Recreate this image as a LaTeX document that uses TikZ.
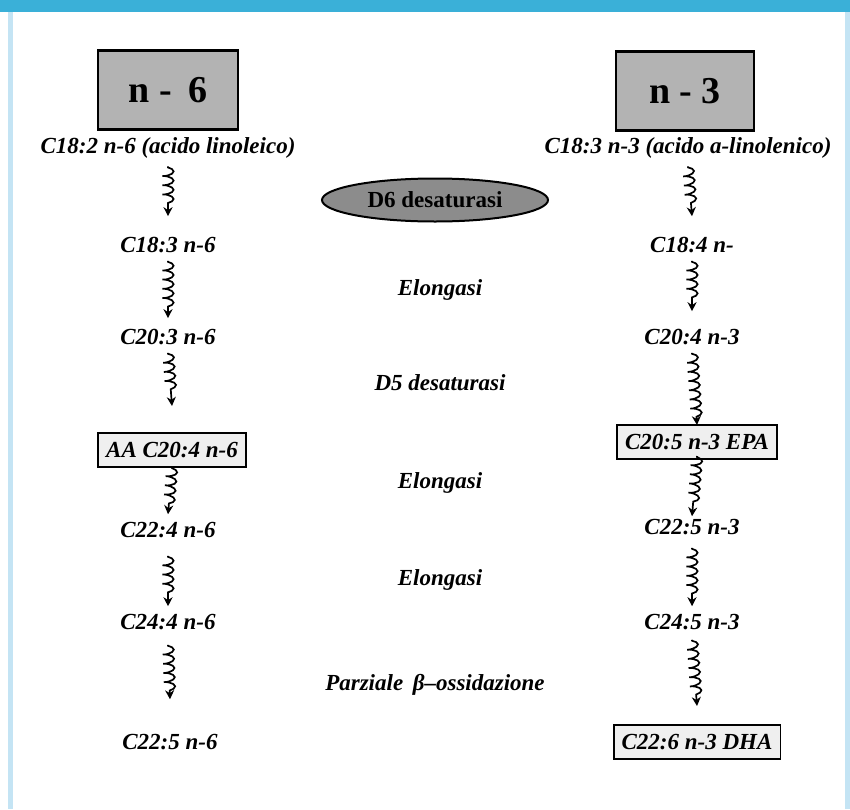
\documentclass[tikz,border=0pt]{standalone}
\usepackage{fontspec}
\setmainfont{Liberation Serif}
\usetikzlibrary{shapes.geometric,arrows.meta,decorations.pathmorphing}
\definecolor{topblue}{HTML}{3AB0D8}
\definecolor{sideblue}{HTML}{C4E4F4}
\definecolor{ellgray}{HTML}{8C8C8C}
\definecolor{boxgray}{HTML}{B3B3B3}
\definecolor{lightbox}{HTML}{EFEFEF}

\begin{document}
\begin{tikzpicture}[x=0.5pt,y=-0.5pt,
  acid/.style={font=\fontsize{11.5}{13}\selectfont\bfseries\itshape, inner sep=1pt, outer ysep=3pt},
  acidbox/.style={acid, draw, line width=0.9pt, fill=lightbox, inner xsep=4pt, minimum height=17pt, outer ysep=0pt},
  enzyme/.style={font=\fontsize{11.5}{13}\selectfont\bfseries\itshape},
  family/.style={draw, line width=1.2pt, fill=boxgray, minimum width=70pt, minimum height=39.5pt, font=\fontsize{19}{21}\selectfont\bfseries},
  wavy/.style={decorate, decoration={coil, aspect=0.3, amplitude=2.8pt, segment length=4.6pt, pre length=0.5pt, post length=4pt}, -{Stealth[length=4.5pt,width=4.5pt]}, line width=0.85pt}]
\useasboundingbox (0,0) rectangle (850,809);
\fill[topblue] (0,0) rectangle (850,12);
\fill[sideblue] (8,12) rectangle (13,809);
\fill[sideblue] (845,12) rectangle (850,809);

\node[family] (fam6) at (168,90) {n -\, 6};
\node[family, minimum width=69pt] (fam3) at (685,91) {n - 3};

\node[acid] (l1) at (168,148) {C18:2 n-6 (acido linoleico)};
\node[acid] (l2) at (168,245) {C18:3 n-6};
\node[acid] (l3) at (168,337) {C20:3 n-6};
\node[acidbox] (l4) at (172,450) {AA C20:4 n-6};
\node[acid] (l5) at (168,530) {C22:4 n-6};
\node[acid] (l6) at (168,622) {C24:4 n-6};
\node[acid] (l7) at (170,742) {C22:5 n-6};

\node[acid] (r1) at (688,148) {C18:3 n-3 (acido a-linolenico)};
\node[acid] (r2) at (692,245) {C18:4 n-};
\node[acid] (r3) at (692,337) {C20:4 n-3};
\node[acidbox] (r4) at (697,442) {C20:5 n-3 EPA};
\node[acid] (r5) at (692,527) {C22:5 n-3};
\node[acid] (r6) at (692,622) {C24:5 n-3};
\node[acidbox] (r7) at (697,742) {C22:6 n-3 DHA};

\node[ellipse, draw, line width=1pt, fill=ellgray, minimum width=113pt, minimum height=21.5pt, font=\fontsize{11.5}{13}\selectfont\bfseries] (d6) at (435,200) {D6 desaturasi};
\node[enzyme] (el1) at (440,290) {Elongasi};
\node[enzyme] (d5) at (440,383) {D5 desaturasi};
\node[enzyme] (el2) at (440,483) {Elongasi};
\node[enzyme] (el3) at (440,580) {Elongasi};
\node[enzyme] (ox) at (435,685) {Parziale\, β–ossidazione};

\foreach \a/\b/\s/\e in {l1/l2/0/6.5,l2/l3/0/1.5,l3/l4/0/13.5,l4/l5/0/0,l5/l6/5/0,l6/l7/3.5/13.5,
    r1/r2/0/6.5,r2/r3/0/5,r3/r4/0/0,r4/r5/-1.5/-2.5,r5/r6/2.5/0,r6/r7/1/9.5}
  \draw[wavy] ([yshift=-\s pt]\a.south) -- ([yshift=\e pt]\b.north);
\end{tikzpicture}
\end{document}
